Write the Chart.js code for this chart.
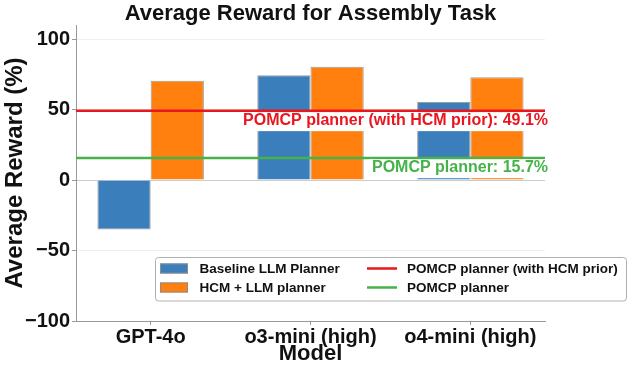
<!DOCTYPE html>
<html>
<head>
<meta charset="utf-8">
<script src="https://cdn.jsdelivr.net/npm/chart.js@4.4.1/dist/chart.umd.min.js"></script>
<style>
  html, body { margin: 0; padding: 0; background: #ffffff; }
  #wrap { width: 630px; height: 367px; }
</style>
</head>
<body>
<div id="wrap"><canvas id="c" width="630" height="367"></canvas></div>
<script>
// ---- data ----
const categories = ['GPT-4o', 'o3-mini (high)', 'o4-mini (high)'];
const baselineLLM = [-35, 74.3, 55.3];
const hcmLLM = [70.5, 80.4, 73.0];
const seriesLabels = ['Baseline LLM Planner', 'HCM + LLM planner'];
const refLabels = ['POMCP planner (with HCM prior)', 'POMCP planner'];
const refValues = [49.1, 15.7];
const yTicks = [-100, -50, 0, 50, 100];

// ---- styles ----
const FONT = "'Liberation Sans', Arial, Helvetica, sans-serif";
const barColors = ['#3a7ebb', '#ff800e'];
const refColors = ['#e8161e', '#45b24a'];

const refPlugin = {
  id: 'refLines',
  afterDatasetsDraw(chart) {
    const { ctx, chartArea: a, scales: { y } } = chart;
    ctx.save();
    refValues.forEach((v, i) => {
      const py = y.getPixelForValue(v);
      ctx.strokeStyle = refColors[i];
      ctx.lineWidth = 2.5;
      ctx.beginPath();
      ctx.moveTo(a.left, py);
      ctx.lineTo(a.right, py);
      ctx.stroke();
    });
    ctx.font = 'bold 16px ' + FONT;
    ctx.textAlign = 'right';
    ctx.textBaseline = 'middle';
    refValues.forEach((v, i) => {
      const py = y.getPixelForValue(v);
      const txt = refLabels[i] + ': ' + v + '%';
      const w = ctx.measureText(txt).width;
      const xr = a.right + 3;
      ctx.fillStyle = '#ffffff';
      ctx.fillRect(xr - w - 3, py + 1.3, w + 6, 19);
      ctx.fillStyle = refColors[i];
      ctx.fillText(txt, xr, py + 10);
    });
    ctx.restore();
  }
};

const legendPlugin = {
  id: 'boxLegend',
  afterDraw(chart) {
    const { ctx } = chart;
    ctx.save();
    const bx = 155.5, by = 257.5, bw = 471, bh = 43.5;
    ctx.fillStyle = 'rgba(255,255,255,0.85)';
    ctx.strokeStyle = '#b0b0b0';
    ctx.lineWidth = 1;
    ctx.beginPath();
    ctx.roundRect(bx, by, bw, bh, 3);
    ctx.fill();
    ctx.stroke();
    ctx.font = 'bold 13.5px ' + FONT;
    ctx.textAlign = 'left';
    ctx.textBaseline = 'middle';
    const rows = [268.5, 287.5];
    chart.data.datasets.forEach((ds, i) => {
      ctx.fillStyle = ds.backgroundColor;
      ctx.fillRect(160, rows[i] - 5, 28, 10);
      ctx.strokeStyle = '#8c8c8c';
      ctx.strokeRect(160.5, rows[i] - 4.5, 27, 9);
      ctx.fillStyle = '#111111';
      ctx.fillText(ds.label, 199.5, rows[i] + 0.5);
    });
    refLabels.forEach((lab, i) => {
      ctx.strokeStyle = refColors[i];
      ctx.lineWidth = 2.5;
      ctx.beginPath();
      ctx.moveTo(367, rows[i]);
      ctx.lineTo(397, rows[i]);
      ctx.stroke();
      ctx.fillStyle = '#111111';
      ctx.fillText(lab, 407, rows[i] + 0.5);
    });
    ctx.restore();
  }
};

new Chart(document.getElementById('c'), {
  type: 'bar',
  data: {
    datasets: [
      {
        label: seriesLabels[0],
        data: baselineLLM.map((v, i) => ({ x: i, y: v })),
        backgroundColor: barColors[0],
        borderColor: 'rgba(130,130,130,0.8)',
        borderWidth: 1,
        categoryPercentage: 0.666,
        barPercentage: 1.0
      },
      {
        label: seriesLabels[1],
        data: hcmLLM.map((v, i) => ({ x: i, y: v })),
        backgroundColor: barColors[1],
        borderColor: 'rgba(130,130,130,0.8)',
        borderWidth: 1,
        categoryPercentage: 0.666,
        barPercentage: 1.0
      }
    ]
  },
  options: {
    responsive: false,
    animation: false,
    devicePixelRatio: 1,
    layout: { padding: { left: 0, right: 85, top: 0, bottom: 0 } },
    plugins: {
      legend: { display: false },
      tooltip: { enabled: false },
      title: {
        display: true,
        fullSize: false,
        text: 'Average Reward for Assembly Task',
        color: '#111111',
        font: { family: FONT, size: 22, weight: 'bold', lineHeight: 1.0 },
        padding: { top: 3, bottom: 0 }
      }
    },
    scales: {
      x: {
        type: 'linear',
        min: -0.467,
        max: 2.467,
        offset: false,
        afterBuildTicks: (axis) => { axis.ticks = categories.map((_, i) => ({ value: i })); },
        afterFit: (axis) => { axis.height = 46; },
        ticks: {
          callback: (v) => categories[v],
          color: '#111111',
          font: { family: FONT, size: 20, weight: 'bold', lineHeight: 1.0 },
          padding: 2,
          maxRotation: 0,
          autoSkip: false
        },
        grid: { drawOnChartArea: false, drawTicks: true, tickLength: 4, tickColor: '#999999', offset: false },
        border: { display: true, color: '#999999', width: 1 },
        title: {
          display: true,
          text: 'Model',
          color: '#111111',
          font: { family: FONT, size: 22, weight: 'bold', lineHeight: 1.0 },
          padding: { top: 0, bottom: 2 }
        }
      },
      y: {
        min: -100,
        max: 110,
        afterBuildTicks: (axis) => { axis.ticks = yTicks.map(v => ({ value: v })); },
        afterFit: (axis) => { axis.width = 76; },
        ticks: {
          color: '#111111',
          font: { family: FONT, size: 20, weight: 'bold' },
          padding: 2,
          callback: (v) => (v < 0 ? '\u2212' + Math.abs(v) : '' + v)
        },
        grid: {
          color: (c) => (c.tick && c.tick.value === 0 ? '#cccccc' : '#f0f0f0'),
          tickColor: '#999999',
          tickLength: 4,
          lineWidth: 1
        },
        border: { display: true, color: '#999999', width: 1 },
        title: {
          display: true,
          text: 'Average Reward (%)',
          color: '#111111',
          font: { family: FONT, size: 24, weight: 'bold', lineHeight: 1.0 },
          padding: { top: 3, bottom: 0 }
        }
      }
    }
  },
  plugins: [refPlugin, legendPlugin]
});
</script>
</body>
</html>
